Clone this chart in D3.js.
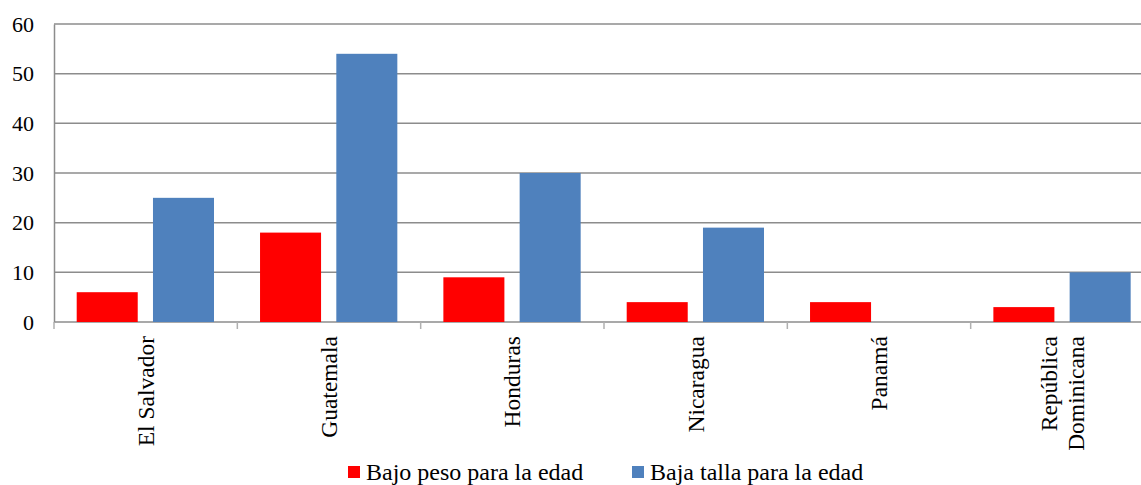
<!DOCTYPE html>
<html>
<head>
<meta charset="utf-8">
<script src="https://cdn.jsdelivr.net/npm/d3@7"></script>
</head>
<body style="margin:0">
<script>
// data
const countries = ['El Salvador', 'Guatemala', 'Honduras', 'Nicaragua', 'Panamá', 'República\nDominicana'];
const bajoPeso = [6, 18, 9, 4, 4, 3];
const bajaTalla = [25, 54, 30, 19, null, 10];
const seriesNames = ['Bajo peso para la edad', 'Baja talla para la edad'];
const seriesColors = ['#ff0000', '#4f81bd'];
const yTicks = [0, 10, 20, 30, 40, 50, 60];

const width = 1141, height = 485;
const plot = {left: 54, top: 24, right: 1154, bottom: 322};
const serifFont = "'Liberation Serif', 'Times New Roman', serif";

const svg = d3.select('body').append('svg')
  .attr('width', width)
  .attr('height', height)
  .style('font-family', serifFont);

const x = d3.scaleBand()
  .domain(countries)
  .range([plot.left, plot.right]);

// two bars per country, 61px wide with a 15px gap
const xInner = d3.scaleBand()
  .domain([0, 1])
  .range([22.7, 160])
  .paddingInner(0.2);

const y = d3.scaleLinear()
  .domain([0, 60])
  .range([plot.bottom, plot.top]);

// gridlines
svg.append('g')
  .selectAll('line')
  .data(yTicks)
  .enter().append('line')
    .attr('x1', plot.left)
    .attr('x2', plot.right)
    .attr('y1', d => y(d))
    .attr('y2', d => y(d))
    .attr('stroke', '#8c8c8c')
    .attr('stroke-width', 1.5);

// y axis
let yAxis = svg.append('g')
  .attr('transform', `translate(${plot.left},0)`)
  .call(d3.axisLeft(y).tickValues(yTicks).tickSize(0).tickPadding(20))
  .call(g => g.select('.domain').attr('stroke', '#8c8c8c').attr('stroke-width', 1.5));
yAxis.attr('font-family', null).attr('font-size', null);
yAxis.selectAll('text')
  .style('font-family', serifFont)
  .style('font-size', '22px')
  .attr('fill', '#000');

// bars
const series = [bajoPeso, bajaTalla];
series.forEach((vals, si) => {
  svg.append('g')
    .selectAll('rect')
    .data(countries.map((c, i) => ({c: c, v: vals[i]})).filter(d => d.v != null))
    .enter().append('rect')
      .attr('x', d => x(d.c) + xInner(si))
      .attr('y', d => y(d.v))
      .attr('width', xInner.bandwidth())
      .attr('height', d => y(0) - y(d.v))
      .attr('fill', seriesColors[si]);
});

// category ticks
svg.append('g')
  .selectAll('line')
  .data(countries)
  .enter().append('line')
    .attr('x1', d => x(d))
    .attr('x2', d => x(d))
    .attr('y1', plot.bottom)
    .attr('y2', plot.bottom + 7)
    .attr('stroke', '#b0b0b0')
    .attr('stroke-width', 1.5);

// category labels, rotated
countries.forEach(c => {
  let lines = c.split('\n');
  let cx = x(c) + x.bandwidth() / 2;
  let t = svg.append('text')
    .attr('transform', `translate(${cx},${plot.bottom + 14}) rotate(-90)`)
    .attr('text-anchor', 'end')
    .style('font-family', serifFont)
    .style('font-size', '23.5px')
    .attr('fill', '#000');
  lines.forEach((ln, i) => {
    t.append('tspan')
      .attr('x', 0)
      .attr('y', (i - (lines.length - 1) / 2) * 27 + 8)
      .text(ln);
  });
});

// legend
const legendX = [348, 632];
seriesNames.forEach((name, i) => {
  svg.append('rect')
    .attr('x', legendX[i])
    .attr('y', 466)
    .attr('width', 12)
    .attr('height', 12)
    .attr('fill', seriesColors[i]);
  svg.append('text')
    .attr('x', legendX[i] + 18)
    .attr('y', 480)
    .style('font-family', serifFont)
    .style('font-size', '24px')
    .attr('fill', '#000')
    .text(name);
});
</script>
</body>
</html>
